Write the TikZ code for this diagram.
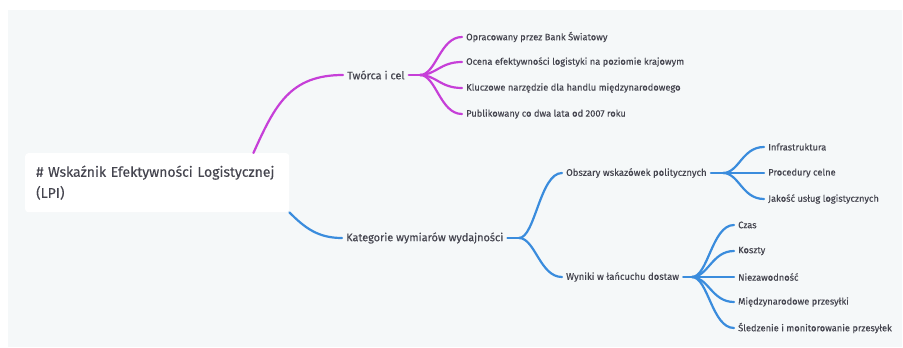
\documentclass[tikz,border=0pt]{standalone}
\usepackage{fontspec}
\setmainfont{Fira Sans}[FakeBold=0.25]
\usetikzlibrary{positioning,calc}
\definecolor{bgcol}{HTML}{F5F8F9}
\definecolor{purplebr}{HTML}{C63FD8}
\definecolor{bluebr}{HTML}{3A8CDD}
\definecolor{txtcol}{HTML}{45454F}

\begin{document}
\begin{tikzpicture}[x=1pt, y=-1pt]
  \tikzstyle{rootbox} = [rectangle, fill=white, rounded corners=3pt, anchor=north west, minimum width=264pt, minimum height=59pt, text width=242pt, align=left, inner sep=11pt, font=\fontsize{14}{21}\selectfont, text=txtcol]
  \tikzstyle{topic} = [anchor=west, inner sep=4pt, font=\fontsize{10.9}{12}\selectfont, text=txtcol]
  \tikzstyle{sub} = [anchor=west, inner sep=4pt, font=\fontsize{9.5}{10}\selectfont, text=txtcol]
  \tikzstyle{leaf} = [anchor=west, inner sep=4pt, font=\fontsize{9.3}{10}\selectfont, text=txtcol]
  \tikzstyle{pline} = [purplebr, line width=2.2pt, line cap=round]
  \tikzstyle{bline} = [bluebr, line width=2.2pt, line cap=round]
  \useasboundingbox (0,0) rectangle (903,348);
  \fill[white] (0,0) rectangle (903,348);
  \fill[bgcol] (8,10) rectangle (902,347);

  \node [rootbox] (root) at (25,153) {\# Wskaźnik Efektywności Logistycznej\\(LPI)};

  % first branch
  \node [topic] (tworca) at (343,75) {Twórca i cel};
  \node [leaf] (opr) at (462,37) {Opracowany przez Bank Światowy};
  \node [leaf] (ocena) at (462,62) {Ocena efektywności logistyki na poziomie krajowym};
  \node [leaf] (klucz) at (462,88) {Kluczowe narzędzie dla handlu międzynarodowego};
  \node [leaf] (publ) at (462,114) {Publikowany co dwa lata od 2007 roku};
  \coordinate (jtw) at (420,75);

  % second branch
  \node [topic] (kat) at (342,238) {Kategorie wymiarów wydajności};
  \node [sub] (obsz) at (562,173) {Obszary wskazówek politycznych};
  \node [sub] (wyn) at (562,277) {Wyniki w łańcuchu dostaw};
  \node [leaf] (infra) at (764,147) {Infrastruktura};
  \node [leaf] (proc) at (764,173) {Procedury celne};
  \node [leaf] (jak) at (764,199) {Jakość usług logistycznych};
  \node [leaf] (czas) at (734,225) {Czas};
  \node [leaf] (koszt) at (734,251) {Koszty};
  \node [leaf] (niez) at (734,277) {Niezawodność};
  \node [leaf] (mied) at (734,302) {Międzynarodowe przesyłki};
  \node [leaf] (sled) at (734,328) {Śledzenie i monitorowanie przesyłek};
  \coordinate (jkat) at (519,238);
  \coordinate (jobsz) at (723,173);
  \coordinate (jwyn) at (692,277);

  \coordinate (rtop) at ($(root.north east)+(-36,0)$);
  \draw [pline] (rtop) .. controls (275,105) and (290,75) .. (tworca.west);
  \draw [pline] (tworca.east) -- (jtw);
  \draw [pline] (jtw) .. controls +(16,0) and +(-22,0) .. (opr.west);
  \draw [pline] (jtw) .. controls +(16,0) and +(-22,0) .. (ocena.west);
  \draw [pline] (jtw) .. controls +(16,0) and +(-22,0) .. (klucz.west);
  \draw [pline] (jtw) .. controls +(16,0) and +(-22,0) .. (publ.west);

  \draw [bline] (root.south east) .. controls (305,228) and (318,238) .. (kat.west);
  \draw [bline] (kat.east) -- (jkat);
  \draw [bline] (jkat) .. controls +(16,0) and +(-22,0) .. (obsz.west);
  \draw [bline] (jkat) .. controls +(16,0) and +(-22,0) .. (wyn.west);
  \draw [bline] (obsz.east) -- (jobsz);
  \draw [bline] (jobsz) .. controls +(16,0) and +(-22,0) .. (infra.west);
  \draw [bline] (jobsz) -- (proc.west);
  \draw [bline] (jobsz) .. controls +(16,0) and +(-22,0) .. (jak.west);
  \draw [bline] (wyn.east) -- (jwyn);
  \draw [bline] (jwyn) .. controls +(16,0) and +(-22,0) .. (czas.west);
  \draw [bline] (jwyn) .. controls +(16,0) and +(-22,0) .. (koszt.west);
  \draw [bline] (jwyn) -- (niez.west);
  \draw [bline] (jwyn) .. controls +(16,0) and +(-22,0) .. (mied.west);
  \draw [bline] (jwyn) .. controls +(16,0) and +(-22,0) .. (sled.west);
\end{tikzpicture}
\end{document}
